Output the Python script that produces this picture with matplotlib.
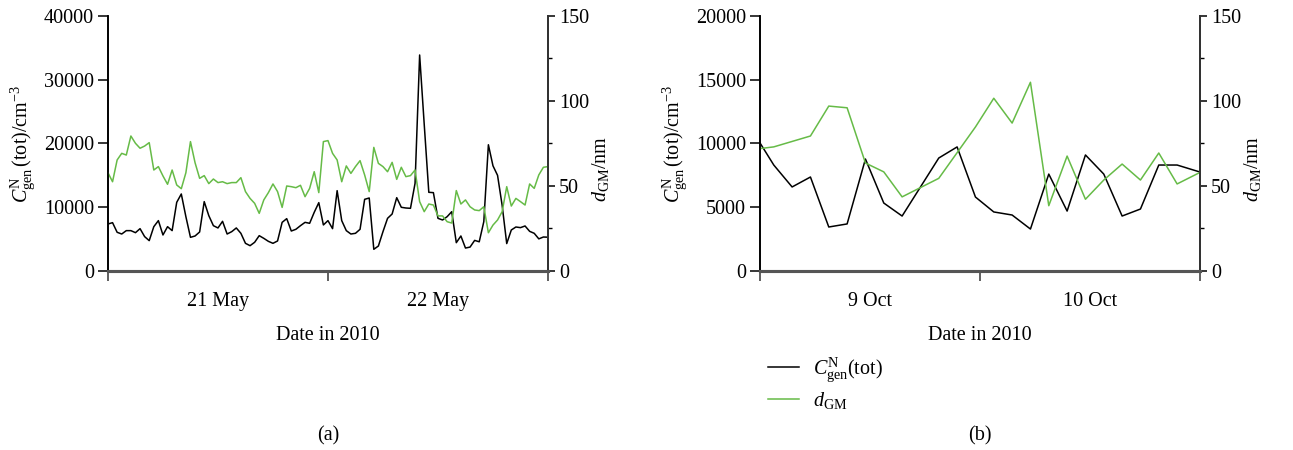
import matplotlib
matplotlib.use('Agg')
import matplotlib.pyplot as plt
from matplotlib.ticker import MultipleLocator, FixedLocator, NullFormatter

plt.rcParams['font.family'] = ['Liberation Serif', 'DejaVu Serif']
plt.rcParams['mathtext.fontset'] = 'custom'
plt.rcParams['mathtext.rm'] = 'Liberation Serif'
plt.rcParams['mathtext.it'] = 'Liberation Serif:italic'
plt.rcParams['font.size'] = 14.5

# 20-22 May 2010, half-hourly values (hours from 21 May 00:00)
hours_may = [0.5 * k for k in range(97)]
conc_may = [7370, 7580, 6070, 5800, 6330, 6330, 6010, 6640, 5390, 4760,
            6950, 7900, 5650, 6950, 6330, 10770, 12080, 8520, 5280, 5490,
            6120, 10880, 8680, 7110, 6750, 7790, 5800, 6170, 6750, 5910,
            4340, 3970, 4500, 5540, 5120, 4650, 4340, 4710, 7630, 8210,
            6270, 6540, 7110, 7630, 7480, 9200, 10720, 7220, 7900, 6640,
            12600, 7900, 6330, 5800, 5910, 6540, 11240, 11450, 3400, 3920,
            6170, 8260, 8940, 11500, 9990, 9880, 9830, 13750, 33880, 23000,
            12340, 12290, 8260, 8000, 8520, 9300, 4440, 5490, 3600, 3750,
            4800, 4580, 7740, 19800, 16500, 15000, 10300, 4300, 6430, 6900,
            6800, 7060, 6220, 5910, 5040, 5330, 5300]
dgm_may = [57.8, 52.5, 65.3, 69.2, 68.2, 79.4, 75.1, 72.2, 73.5, 75.5,
           59.4, 61.4, 55.9, 51.0, 59.4, 50.6, 48.4, 57.8, 76.1, 63.7,
           54.5, 56.1, 51.4, 54.1, 52.0, 52.5, 51.4, 52.0, 52.0, 54.9,
           46.7, 42.7, 39.8, 33.9, 41.8, 46.1, 51.2, 46.7, 37.4, 50.0,
           49.6, 49.0, 50.4, 43.7, 48.6, 58.4, 46.1, 76.1, 76.7, 69.2,
           65.3, 52.5, 61.8, 57.4, 61.4, 64.9, 56.5, 46.7, 72.7, 63.3,
           61.4, 58.4, 63.9, 53.9, 61.0, 55.5, 56.1, 59.4, 40.8, 34.9,
           39.4, 38.8, 32.4, 32.4, 29.0, 28.2, 47.3, 39.4, 41.8, 37.8,
           35.9, 35.5, 37.8, 22.5, 27.0, 30.0, 34.9, 49.6, 38.2, 42.7,
           40.8, 38.8, 51.2, 48.6, 56.5, 61.0, 61.4]

# 9-10 Oct 2010, two-hourly values (hours from 9 Oct 00:00)
hours_oct_c = [0, 1.5, 3.5, 5.5, 7.5, 9.5, 11.5, 13.5, 15.5, 19.5, 21.5, 23.5,
               25.5, 27.5, 29.5, 31.5, 33.5, 35.5, 37.5, 39.5, 41.5, 43.5, 45.5, 48]
conc_oct = [10040, 8310, 6590, 7370, 3450, 3690, 8780, 5330, 4310, 8860, 9730, 5800,
            4630, 4390, 3290, 7600, 4700, 9100, 7600, 4310, 4860, 8310, 8310, 7760]
hours_oct_d = [0, 1.5, 5.5, 7.5, 9.5, 11.5, 13.5, 15.5, 19.5, 23.5, 25.5,
               27.5, 29.5, 31.5, 33.5, 35.5, 37.5, 39.5, 41.5, 43.5, 45.5, 48]
dgm_oct = [72, 73, 79.4, 97, 96, 63.5, 58.3, 43.6, 54.5, 84.7, 101.6,
           87, 111, 38.4, 67.6, 42.2, 53.5, 62.9, 53.5, 69.4, 51.2, 58]

day_labels_may = ['21 May', '22 May']
day_labels_oct = ['9 Oct', '10 Oct']

GREEN = '#66bb47'
conc_label = r'$C^{\rm N}_{\rm gen}\,(\rm tot)/\rm cm^{-3}$'
dgm_label = r'$d_{\rm GM}$/nm'


def panel(rect, hours, conc, hours_d, dgm, cmax, cstep, days):
    ax = fig.add_axes(rect)
    ax2 = ax.twinx()
    ax.plot(hours, conc, color='black', lw=1.1, label=r'$C^{\rm N}_{\rm gen}(\rm tot)$')
    ax2.plot(hours_d, dgm, color=GREEN, lw=1.1, label=r'$d_{\rm GM}$')

    ax.set_xlim(0, 48)
    ax.set_ylim(0, cmax)
    ax2.set_ylim(0, 150)
    ax.yaxis.set_major_locator(MultipleLocator(cstep))
    ax2.yaxis.set_major_locator(MultipleLocator(50))
    ax2.yaxis.set_minor_locator(MultipleLocator(25))

    ax.xaxis.set_major_locator(FixedLocator([0, 24, 48]))
    ax.xaxis.set_major_formatter(NullFormatter())
    ax.xaxis.set_minor_locator(FixedLocator([12, 36]))
    ax.set_xticklabels(days, minor=True)
    ax.tick_params(axis='x', which='major', direction='out', length=7, width=1.2, color='#444444')
    ax.tick_params(axis='x', which='minor', length=0, pad=15)
    ax.tick_params(axis='y', direction='out', length=7, width=1.1, pad=3)
    ax2.tick_params(axis='y', which='major', direction='out', length=5, width=1.1, pad=3)
    ax2.tick_params(axis='y', which='minor', direction='out', length=3, width=1.0)

    for a in (ax, ax2):
        a.spines['top'].set_visible(False)
        a.spines['bottom'].set_color('#555555')
        a.spines['bottom'].set_linewidth(2.2)
        a.spines['left'].set_linewidth(1.2)
        a.spines['right'].set_linewidth(1.4)
        a.spines['right'].set_color('#333333')

    ax.set_xlabel('Date in 2010', labelpad=11)
    ax.set_ylabel(conc_label, labelpad=5)
    ax2.set_ylabel(dgm_label)
    ax2.yaxis.set_label_coords(1.095, 0.40)
    return ax, ax2


fig = plt.figure(figsize=(12.93, 4.5), dpi=100)

axa, axa2 = panel([0.0835, 0.3978, 0.3403, 0.5667], hours_may, conc_may,
                  hours_may, dgm_may, 40000, 10000, day_labels_may)
axb, axb2 = panel([0.5878, 0.3978, 0.3403, 0.5667], hours_oct_c, conc_oct,
                  hours_oct_d, dgm_oct, 20000, 5000, day_labels_oct)

handles = axb.get_lines() + axb2.get_lines()
fig.legend(handles=handles, labels=[h.get_label() for h in handles],
           loc='upper left', bbox_to_anchor=(0.594, 0.21), frameon=False,
           borderpad=0, borderaxespad=0,
           handlelength=1.55, handletextpad=0.7, labelspacing=0.3)

fig.text(0.2537, 0.031, '(a)', ha='center', va='center')
fig.text(0.7579, 0.031, '(b)', ha='center', va='center')

fig.savefig('out.png', dpi=100)
